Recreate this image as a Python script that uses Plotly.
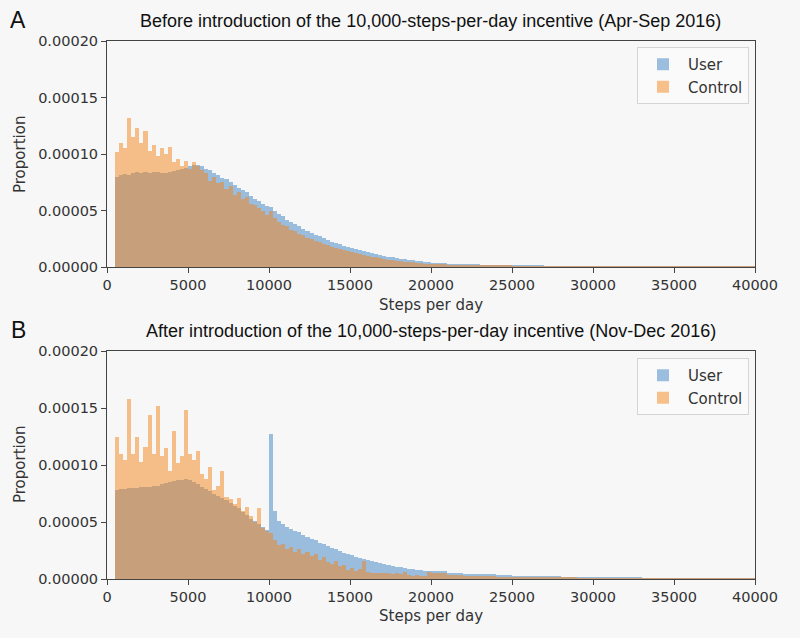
import numpy as np
import plotly.graph_objects as go

# ---- data (proportion, in units of 1e-5) ----
# fine bins: 250 steps wide, from 500 to 20000 (left edges)
FINE_START, FINE_WIDTH, N_FINE = 500, 250, 78
# tail bins: 1000 steps wide, from 20000 to 40000
TAIL_START, TAIL_WIDTH, N_TAIL = 20000, 1000, 20

before_user = [
    8.0, 8.1, 8.2, 8.1, 8.3, 8.4, 8.3, 8.4, 8.3, 8.4, 8.4, 8.3, 8.3, 8.4, 8.5, 8.6,
    8.7, 8.8, 8.9, 9.0, 9.0, 8.9, 8.7, 8.6, 8.3, 8.1, 7.9, 7.8, 7.5, 7.3, 7.0, 6.8,
    6.6, 6.3, 6.0, 5.8, 5.6, 5.4, 5.3, 5.0, 4.7, 4.5, 4.2, 4.0, 3.8, 3.6, 3.4, 3.2,
    3.0, 2.85, 2.7, 2.55, 2.4, 2.25, 2.1, 2.0, 1.9, 1.8, 1.7, 1.6, 1.5, 1.4, 1.3, 1.22,
    1.14, 1.06, 0.98, 0.92, 0.86, 0.8, 0.74, 0.68, 0.63, 0.58, 0.54, 0.5, 0.47, 0.44,
]
before_user_tail = [0.38, 0.30, 0.24, 0.19, 0.15, 0.12, 0.10, 0.08, 0.065, 0.05,
                    0.04, 0.035, 0.03, 0.025, 0.02, 0.015, 0.012, 0.01, 0.008, 0.006]

before_control = [
    10.2, 11.0, 10.5, 13.2, 11.5, 12.3, 11.0, 12.0, 10.3, 10.8, 9.8, 10.5, 10.0, 10.6, 9.3, 9.6,
    8.9, 9.4, 8.7, 9.3, 8.9, 8.6, 8.3, 7.6, 8.0, 7.4, 7.5, 6.9, 7.2, 6.4, 6.6, 6.0,
    6.2, 5.6, 5.5, 5.2, 5.0, 4.6, 5.0, 4.3, 4.0, 3.7, 3.6, 3.3, 3.2, 2.9, 2.8, 2.6,
    2.5, 2.3, 2.2, 2.0, 1.95, 1.8, 1.7, 1.55, 1.5, 1.4, 1.35, 1.2, 1.15, 1.05, 1.0, 0.92,
    0.85, 0.78, 0.72, 0.66, 0.6, 0.55, 0.5, 0.47, 0.43, 0.4, 0.37, 0.33, 0.31, 0.28,
]
before_control_tail = [0.25, 0.19, 0.15, 0.12, 0.09, 0.07, 0.06, 0.045, 0.035, 0.03,
                       0.025, 0.02, 0.015, 0.012, 0.01, 0.008, 0.006, 0.005, 0.004, 0.003]

after_user = [
    7.8, 7.9, 7.9, 8.0, 8.0, 8.0, 8.1, 8.1, 8.1, 8.2, 8.2, 8.3, 8.4, 8.5, 8.6, 8.7,
    8.7, 8.8, 8.7, 8.5, 8.3, 8.1, 7.9, 7.7, 7.5, 7.3, 7.1, 6.9, 6.7, 6.4, 6.2, 5.9,
    5.6, 5.3, 5.1, 4.8, 4.6, 4.3, 12.7, 6.0, 5.1, 4.8, 4.6, 4.4, 4.2, 4.1, 3.9, 3.7,
    3.5, 3.4, 3.2, 3.05, 2.9, 2.75, 2.6, 2.45, 2.3, 2.2, 2.1, 1.95, 1.85, 1.75, 1.65, 1.55,
    1.45, 1.37, 1.3, 1.22, 1.15, 1.08, 1.02, 0.96, 0.91, 0.86, 0.82, 0.78, 0.74, 0.7,
]
after_user_tail = [0.66, 0.55, 0.47, 0.40, 0.35, 0.30, 0.26, 0.22, 0.19, 0.16,
                   0.13, 0.11, 0.09, 0.08, 0.065, 0.055, 0.045, 0.035, 0.03, 0.025]

after_control = [
    12.5, 11.0, 10.4, 15.8, 11.0, 12.5, 10.3, 11.6, 14.4, 11.0, 15.2, 10.8, 11.5, 9.5, 13.0, 10.2,
    10.8, 14.8, 11.0, 10.4, 11.2, 9.2, 8.8, 9.8, 7.8, 8.2, 9.5, 7.2, 7.0, 6.6, 7.1, 6.0,
    6.3, 5.5, 5.0, 6.2, 4.5, 4.2, 4.0, 3.4, 3.0, 3.1, 2.6, 2.8, 2.4, 2.6, 2.2, 2.4,
    2.0, 2.2, 1.7, 1.9, 1.5, 1.3, 1.6, 1.1, 1.2, 0.8, 1.0, 0.7, 0.9, 1.6, 0.6, 0.55,
    0.5, 0.55, 0.5, 0.5, 0.45, 0.5, 0.4, 0.6, 0.35, 0.3, 0.35, 0.3, 0.3, 0.6,
]
after_control_tail = [0.5, 0.35, 0.3, 0.25, 0.2, 0.15, 0.12, 0.1, 0.1, 0.08,
                      0.06, 0.05, 0.04, 0.035, 0.03, 0.02, 0.02, 0.015, 0.01, 0.01]

series_names = ["User", "Control"]
panel_titles = [
    "Before introduction of the 10,000-steps-per-day incentive (Apr-Sep 2016)",
    "After introduction of the 10,000-steps-per-day incentive (Nov-Dec 2016)",
]
panel_letters = ["A", "B"]
x_ticks = [0, 5000, 10000, 15000, 20000, 25000, 30000, 35000, 40000]
y_ticks = [0.0, 0.00005, 0.00010, 0.00015, 0.00020]
UNIT = 1e-5

# ---- build ----
fine_left = FINE_START + FINE_WIDTH * np.arange(N_FINE)
tail_left = TAIL_START + TAIL_WIDTH * np.arange(N_TAIL)
centers = np.concatenate([fine_left + FINE_WIDTH / 2, tail_left + TAIL_WIDTH / 2])
widths = np.concatenate([np.full(N_FINE, FINE_WIDTH), np.full(N_TAIL, TAIL_WIDTH)])

colors = {"User": "#3f83c4", "Control": "#f5861c"}
panels = [
    {"User": before_user + before_user_tail, "Control": before_control + before_control_tail},
    {"User": after_user + after_user_tail, "Control": after_control + after_control_tail},
]

W, H = 800, 638
BG = "#f7f7f7"
x_dom = [107 / W, 755 / W]
y_doms = [[1 - 267 / H, 1 - 41 / H], [1 - 579 / H, 1 - 351 / H]]

fig = go.Figure()
tick_font = dict(family="DejaVu Sans", size=14.5, color="#333333")

for p, data in enumerate(panels):
    xa = "x" if p == 0 else "x2"
    ya = "y" if p == 0 else "y2"
    lg = "legend" if p == 0 else "legend2"
    for name in series_names:
        vals = np.array(data[name]) * UNIT
        fig.add_trace(go.Bar(
            x=centers, y=vals, width=widths, name=name,
            marker=dict(color=colors[name], line=dict(width=0)),
            opacity=0.5, xaxis=xa, yaxis=ya, legend=lg,
        ))

axis_common = dict(showline=True, linecolor="#444444", linewidth=1, mirror=True,
                   ticks="outside", ticklen=5, tickcolor="#444444", showgrid=False,
                   zeroline=False, tickfont=tick_font, automargin=False)

legend_common = dict(xanchor="right", yanchor="top",
                     bgcolor="rgba(250,250,250,0.8)", bordercolor="#d4d4d4", borderwidth=1,
                     font=dict(family="DejaVu Sans", size=15, color="#333333"),
                     traceorder="normal", itemwidth=40, tracegroupgap=2)

fig.update_layout(
    width=W, height=H, margin=dict(l=0, r=0, t=0, b=0, autoexpand=False),
    paper_bgcolor=BG, plot_bgcolor=BG, barmode="overlay", bargap=0,
    xaxis=dict(domain=x_dom, anchor="y", range=[0, 40000], tickvals=x_ticks,
               tickformat="d", **axis_common),
    yaxis=dict(domain=y_doms[0], anchor="x", range=[0, 0.0002], tickvals=y_ticks,
               tickformat=".5f", **axis_common),
    xaxis2=dict(domain=x_dom, anchor="y2", range=[0, 40000], tickvals=x_ticks,
                tickformat="d", **axis_common),
    yaxis2=dict(domain=y_doms[1], anchor="x2", range=[0, 0.0002], tickvals=y_ticks,
                tickformat=".5f", **axis_common),
    legend=dict(x=749 / W, y=1 - 47 / H, **legend_common),
    legend2=dict(x=749 / W, y=1 - 358 / H, **legend_common),
)

annotations = []
title_y = [21, 331]
x_title_y = [305, 616]
ylab_center = [155, 465]
for p in range(2):
    annotations.append(dict(text=panel_titles[p], x=431 / W, y=1 - title_y[p] / H,
                            xref="paper", yref="paper", showarrow=False,
                            xanchor="center", yanchor="middle",
                            font=dict(family="Liberation Sans", size=18, color="#111111")))
    annotations.append(dict(text=panel_letters[p], x=18 / W, y=1 - (title_y[p] - 1) / H,
                            xref="paper", yref="paper", showarrow=False,
                            xanchor="center", yanchor="middle",
                            font=dict(family="Liberation Sans", size=23, color="#111111")))
    annotations.append(dict(text="Steps per day", x=431 / W, y=1 - x_title_y[p] / H,
                            xref="paper", yref="paper", showarrow=False,
                            xanchor="center", yanchor="middle",
                            font=dict(family="DejaVu Sans", size=15, color="#333333")))
    annotations.append(dict(text="Proportion", x=20 / W, y=1 - ylab_center[p] / H,
                            xref="paper", yref="paper", showarrow=False, textangle=-90,
                            xanchor="center", yanchor="middle",
                            font=dict(family="DejaVu Sans", size=15, color="#333333")))
fig.update_layout(annotations=annotations)

fig.write_html(
    "out.html",
    config={"displayModeBar": False},
    post_script="document.body.style.margin='0';document.body.style.background='#f7f7f7';",
)
